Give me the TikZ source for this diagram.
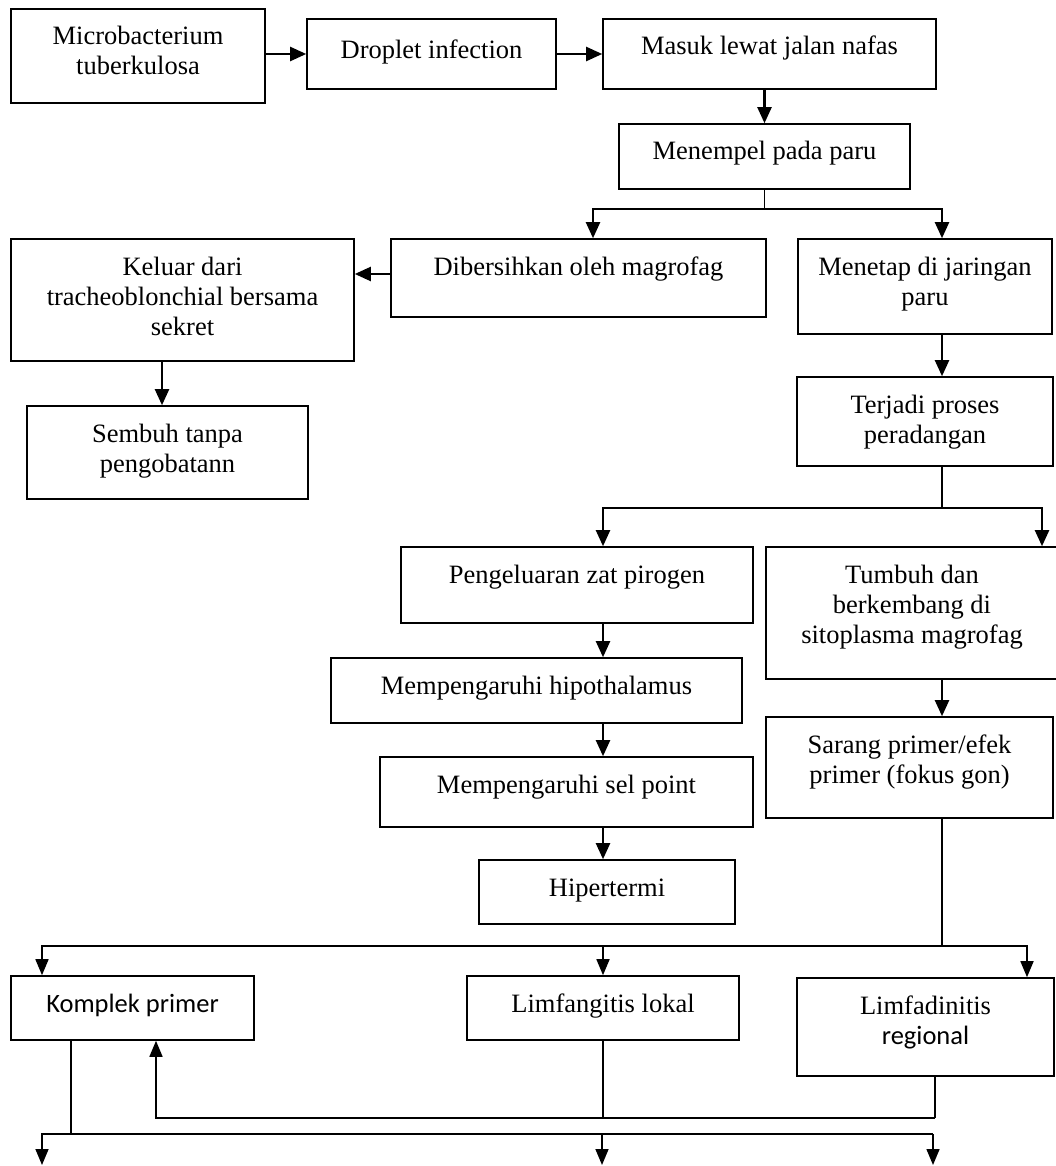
\documentclass[tikz,border=0pt]{standalone}
\usepackage{fontspec}
\setmainfont{Liberation Serif}
\newfontfamily\calfont{Carlito}
\usetikzlibrary{arrows.meta}
\tikzset{
  box/.style={draw, line width=1.6pt, inner sep=0pt, font=\fontsize{26.5}{30}\selectfont},
  arr/.style={line width=2.2pt, -{Triangle[length=16pt,width=14pt]}},
  ln/.style={line width=1.6pt},
  thinln/.style={line width=1.5pt},
  thinarr/.style={line width=1.6pt, -{Triangle[length=16pt,width=13pt]}}
}
\newcommand\mkbox[6]{%
  \pgfmathsetmacro\bw{#4-#2}\pgfmathsetmacro\bh{#5-#3}%
  \node[box, minimum width=\bw pt, minimum height=\bh pt] (#1) at ({(#2+#4)/2},{(#3+#5)/2})
    {\parbox[c][\bh pt][t]{\bw pt}{\centering\rule{0pt}{36pt}#6}};}
\begin{document}
\begin{tikzpicture}[x=1pt,y=-1pt]
\useasboundingbox (0,0) rectangle (1056,1166);
\mkbox{B1}{11}{9}{265}{103}{Microbacterium\\tuberkulosa}
\mkbox{B2}{307}{19}{556}{89}{\rule{0pt}{40pt}Droplet infection}
\mkbox{B3}{603}{19}{936}{89}{Masuk lewat jalan nafas}
\mkbox{B4}{619}{124}{910}{189}{Menempel pada paru}
\mkbox{B5}{391}{239}{766}{317}{Dibersihkan oleh magrofag}
\mkbox{B6}{11}{239}{354}{361}{Keluar dari\\tracheoblonchial bersama\\sekret}
\mkbox{B7}{798}{239}{1052}{334}{Menetap di jaringan\\paru}
\mkbox{B8}{27}{406}{308}{499}{Sembuh tanpa\\pengobatann}
\mkbox{B9}{797}{377}{1053}{466}{Terjadi proses\\peradangan}
\mkbox{B10}{401}{547}{753}{623}{Pengeluaran zat pirogen}
\mkbox{B11}{766}{547}{1058}{679}{Tumbuh dan\\berkembang di\\sitoplasma magrofag}
\mkbox{B12}{331}{658}{742}{723}{Mempengaruhi hipothalamus}
\mkbox{B13}{380}{757}{753}{827}{Mempengaruhi sel point}
\mkbox{B14}{479}{860}{735}{924}{Hipertermi}
\mkbox{B15}{766}{717}{1053}{818}{Sarang primer/efek\\primer (fokus gon)}
\mkbox{B16}{11}{976}{254}{1040}{{\calfont Komplek primer}}
\mkbox{B17}{467}{976}{739}{1040}{Limfangitis lokal}
\mkbox{B18}{797}{978}{1054}{1076}{Limfadinitis\\{\calfont regional}}

% top row
\draw[arr] (B1.east |- B2.west) -- (B2.west);
\draw[arr] (B2.east) -- (B3.west);
\draw[arr] (B3.south -| B4.north) -- (B4.north);
% first split
\coordinate (j1) at (765,209);
\draw[ln] (B4.south) -- (B4.south |- j1);
\draw[arr] (B4.south |- j1) -| ([xshift=14.5pt]B5.north);
\draw[arr] (B4.south |- j1) -| ([xshift=17pt]B7.north);
% left branch
\coordinate (t) at ([yshift=4pt]B5.west);
\draw[arr] (t) -- (t -| B6.east);
\coordinate (u) at ([xshift=-5.5pt]B8.north);
\draw[arr] (u |- B6.south) -- (u);
% right branch
\coordinate (j2) at (942,508);
\draw[arr] (B7.south -| j2) -- (B9.north -| j2);
\draw[ln] (B9.south -| j2) -- (j2);
\draw[arr] (j2) -| ([xshift=26pt]B10.north);
\draw[arr] (j2) -| ([xshift=130pt]B11.north);
% fever chain
\coordinate (cx) at (603,0);
\draw[arr] (B10.south -| cx) -- (B12.north -| cx);
\draw[arr] (B12.south -| cx) -- (B13.north -| cx);
\draw[arr] (B13.south -| cx) -- (B14.north -| cx);
% growth chain
\draw[arr] (B11.south -| j2) -- (B15.north -| j2);
% lower split
\coordinate (j3) at (942,946);
\draw[thinln] (B15.south -| j3) -- (j3);
\draw[thinarr] (j3) -| ([xshift=-90.5pt]B16.north);
\draw[thinarr] (B17.north |- j3) -- (B17.north);
\draw[thinarr] (j3) -| ([xshift=101.5pt]B18.north);
% feedback to Komplek primer
\coordinate (m1) at (935,1118);
\draw[thinln] (B18.south -| m1) -- (m1);
\draw[thinln] (B17.south) -- (B17.south |- m1);
\draw[thinarr] (m1) -| ([xshift=23.5pt]B16.south);
% bottom outputs
\coordinate (k1) at (71,1134);
\coordinate (e1) at (42,1165);
\coordinate (e2) at (602,1165);
\coordinate (e3) at (933,1165);
\draw[thinln] (k1 |- B16.south) -- (k1);
\draw[thinarr] (k1) -| (e1);
\draw[thinln] (k1) -- (k1 -| e3);
\draw[thinarr] (e2 |- k1) -- (e2);
\draw[thinarr] (e3 |- k1) -- (e3);
\end{tikzpicture}
\end{document}
